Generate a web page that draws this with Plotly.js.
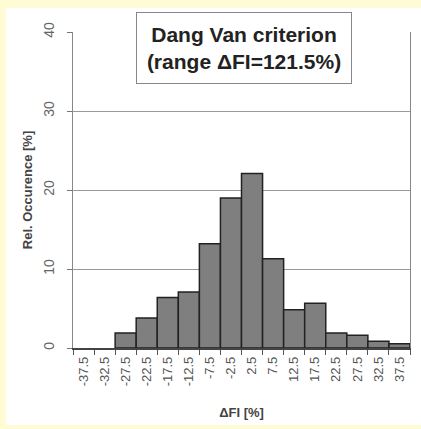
<!DOCTYPE html>
<html>
<head>
<meta charset="utf-8">
<script src="https://cdn.plot.ly/plotly-3.0.1.min.js"></script>
<style>
html, body { margin: 0; padding: 0; background: #fffbd4; width: 421px; height: 429px; overflow: hidden; }
#chart { position: absolute; left: 6px; top: 8px; width: 415px; height: 417px; }
</style>
</head>
<body>
<div id="chart"></div>
<script>
const categories = ["-37.5", "-32.5", "-27.5", "-22.5", "-17.5", "-12.5", "-7.5", "-2.5",
                    "2.5", "7.5", "12.5", "17.5", "22.5", "27.5", "32.5", "37.5"];
const occurrence = [0, 0, 1.9, 3.8, 6.4, 7.1, 13.2, 19.0, 22.1, 11.3, 4.85, 5.65, 1.9, 1.6, 0.84, 0.55];
const yTicks = [0, 10, 20, 30, 40];
const titleLines = ["Dang Van criterion", "(range ΔFI=121.5%)"];

const font = "Liberation Sans, Arial, sans-serif";

const trace = {
  type: "bar",
  x: categories,
  y: occurrence,
  marker: {
    color: "#7f7f7f",
    line: { color: "#222222", width: occurrence.map(v => v > 0 ? 1.5 : 0) }
  },
  hoverinfo: "x+y"
};

const layout = {
  width: 415,
  height: 417,
  margin: { l: 67, r: 11, t: 24, b: 77 },
  paper_bgcolor: "#ffffff",
  plot_bgcolor: "#ffffff",
  showlegend: false,
  bargap: 0,
  font: { family: font, color: "#555555" },
  xaxis: {
    type: "category",
    tickson: "boundaries",
    ticks: "outside",
    ticklen: 5,
    tickcolor: "#555555",
    tickangle: -90,
    tickfont: { size: 13, color: "#555555" },
    ticklabelstandoff: 2,
    showline: true,
    linecolor: "#444444",
    linewidth: 1.5,
    mirror: false,
    showgrid: false,
    title: { text: "ΔFI [%]", font: { size: 13, color: "#444444", family: font, weight: "bold" }, standoff: 22 }
  },
  yaxis: {
    range: [0, 40],
    tickvals: yTicks,
    ticktext: yTicks.map(String),
    ticks: "outside",
    ticklen: 5,
    tickcolor: "#777777",
    tickangle: -90,
    tickfont: { size: 14, color: "#666666" },
    ticklabelstandoff: 7,
    showline: true,
    linecolor: "#888888",
    mirror: true,
    showgrid: true,
    gridcolor: "#999999",
    gridwidth: 1,
    zeroline: false,
    title: { text: "Rel. Occurence [%]", font: { size: 13, color: "#444444", family: font, weight: "bold" }, standoff: 5 }
  },
  annotations: [{
    xref: "paper", yref: "paper",
    x: 0.508, y: 1.063, xanchor: "center", yanchor: "top",
    text: "<b>" + titleLines.join("<br>") + "</b>",
    showarrow: false,
    font: { size: 21, color: "#222222", family: font },
    bgcolor: "#ffffff",
    bordercolor: "#888888",
    borderwidth: 1,
    borderpad: 7,
    width: 200,
    height: 56,
    align: "center"
  }]
};

Plotly.newPlot("chart", [trace], layout, { displayModeBar: false, staticPlot: true });
</script>
</body>
</html>
